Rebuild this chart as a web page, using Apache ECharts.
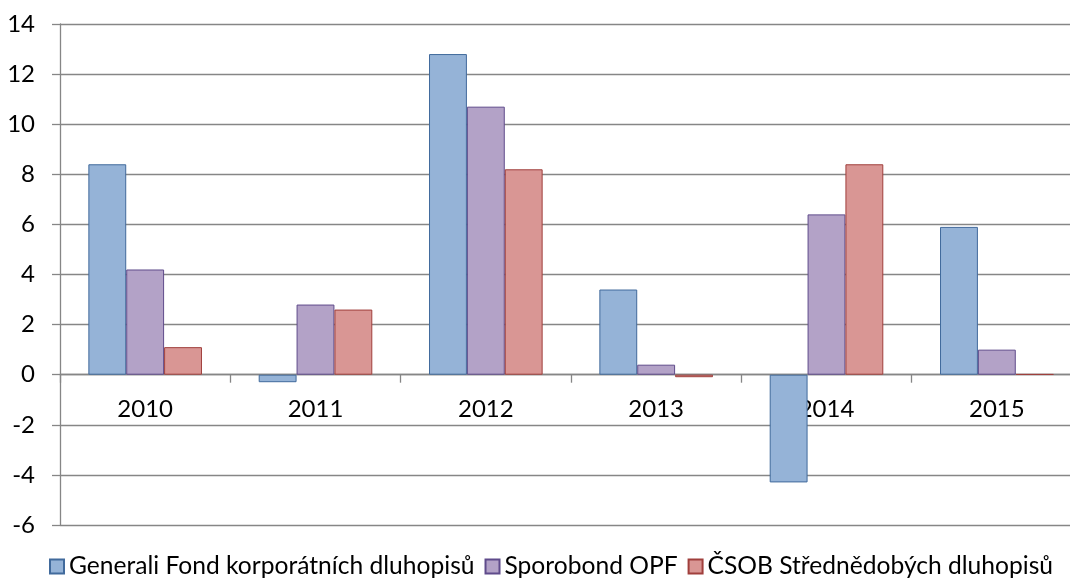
<!DOCTYPE html>
<html>
<head>
<meta charset="utf-8">
<script src="https://cdn.jsdelivr.net/npm/echarts@6/dist/echarts.min.js"></script>
<style>
  html, body { margin: 0; padding: 0; background: #fff; overflow: hidden; width: 1070px; height: 578px; }
  /* the plot area of the original runs past the right edge of the picture */
  #chart { width: 1094px; height: 578px; }
</style>
</head>
<body>
<div id="chart"></div>
<script>
// data
var years = ['2010', '2011', '2012', '2013', '2014', '2015'];
var generali = [8.4, -0.3, 12.8, 3.4, -4.3, 5.9];
var sporobond = [4.2, 2.8, 10.7, 0.4, 6.4, 1.0];
var csob = [1.1, 2.6, 8.2, -0.1, 8.4, 0.02];
var seriesNames = ['Generali Fond korporátních dluhopisů', 'Sporobond OPF', 'ČSOB Střednědobých dluhopisů'];
var yTicks = { min: -6, max: 14, step: 2 };

var fills = ['#95B3D7', '#B3A2C7', '#D99694'];
var borders = ['#416A9C', '#5F4B8B', '#A03F3C'];
var fontFamily = 'Lato, "Noto Sans", sans-serif';

var chart = echarts.init(document.getElementById('chart'));

function makeSeries(name, data, i) {
    return {
        name: name,
        type: 'bar',
        data: data,
        barGap: '0%',
        barCategoryGap: '33.3%',
        itemStyle: { color: fills[i], borderColor: borders[i], borderWidth: 1 }
    };
}

var gridTop = 24, gridHeight = 501;
// x axis sits on the zero line
var zeroOffset = gridHeight * (0 - yTicks.min) / (yTicks.max - yTicks.min);

chart.setOption({
    animation: false,
    textStyle: { fontFamily: fontFamily },
    grid: { left: 60, top: gridTop, width: 1022, height: gridHeight },
    legend: {
        left: 44,
        top: 549,
        itemWidth: 14,
        itemHeight: 14,
        itemGap: 10,
        icon: 'rect',
        textStyle: { fontSize: 24.6, color: '#000', fontFamily: fontFamily }
    },
    xAxis: {
        type: 'category',
        data: years,
        position: 'bottom',
        offset: -zeroOffset,
        axisLine: { onZero: false, lineStyle: { color: '#868686', width: 1.3 } },
        axisTick: { show: true, length: 8, lineStyle: { color: '#868686', width: 1.3 } },
        axisLabel: { margin: 23, fontSize: 24, color: '#000' }
    },
    yAxis: {
        type: 'value',
        min: yTicks.min,
        max: yTicks.max,
        interval: yTicks.step,
        axisLine: { show: true, lineStyle: { color: '#868686', width: 1.3 } },
        axisTick: { show: true, length: 8, lineStyle: { color: '#868686', width: 1.3 } },
        splitLine: { lineStyle: { color: '#868686', width: 1.3 } },
        axisLabel: { margin: 25, fontSize: 24, color: '#000' }
    },
    series: [
        makeSeries(seriesNames[0], generali, 0),
        makeSeries(seriesNames[1], sporobond, 1),
        makeSeries(seriesNames[2], csob, 2)
    ]
});
</script>
</body>
</html>
